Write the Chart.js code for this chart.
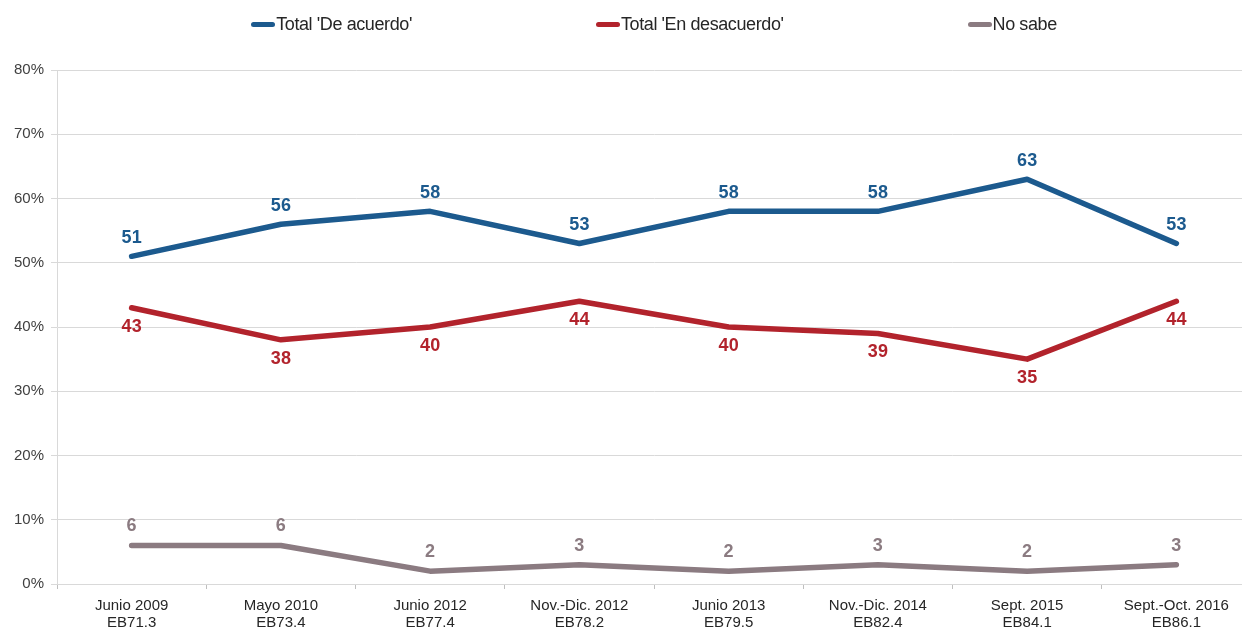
<!DOCTYPE html>
<html>
<head>
<meta charset="utf-8">
<script src="https://cdn.jsdelivr.net/npm/chart.js@4.4.1/dist/chart.umd.min.js"></script>
<style>
  html, body { margin:0; padding:0; background:#fff; overflow:hidden; width:1242px; height:631px; }
  #wrap { position:relative; width:1252px; height:631px; }
  #legend { position:absolute; left:57px; width:1194px; top:13px; display:flex; justify-content:center; gap:184px;
            font-family:"Liberation Sans", Arial, sans-serif; font-size:18px; color:#262626; letter-spacing:-0.4px; line-height:22px; }
  .item { display:flex; align-items:center; white-space:nowrap; }
  .sw { width:24px; height:5px; border-radius:3px; margin-right:1px; }
</style>
</head>
<body>
<div id="wrap">
  <canvas id="c" width="1252" height="631"></canvas>
  <div id="legend"></div>
</div>
<script>
const categories = [
  ["Junio 2009", "EB71.3"],
  ["Mayo 2010", "EB73.4"],
  ["Junio 2012", "EB77.4"],
  ["Nov.-Dic. 2012", "EB78.2"],
  ["Junio 2013", "EB79.5"],
  ["Nov.-Dic. 2014", "EB82.4"],
  ["Sept. 2015", "EB84.1"],
  ["Sept.-Oct. 2016", "EB86.1"]
];
const seriesNames = ["Total 'De acuerdo'", "Total 'En desacuerdo'", "No sabe"];
const deAcuerdo = [51, 56, 58, 53, 58, 58, 63, 53];
const enDesacuerdo = [43, 38, 40, 44, 40, 39, 35, 44];
const noSabe = [6, 6, 2, 3, 2, 3, 2, 3];
const yTicks = [0, 10, 20, 30, 40, 50, 60, 70, 80];

const colors = ["#1c5a8e", "#b2232c", "#8b7b81"];
const labelShift = [-18, 19, -19];

const legendEl = document.getElementById('legend');
seriesNames.forEach((n, i) => {
  const it = document.createElement('div'); it.className = 'item';
  const sw = document.createElement('span'); sw.className = 'sw'; sw.style.background = colors[i];
  const tx = document.createElement('span'); tx.textContent = n;
  it.appendChild(sw); it.appendChild(tx); legendEl.appendChild(it);
});

const valueLabels = {
  id: 'valueLabels',
  afterDatasetsDraw(chart) {
    const ctx = chart.ctx;
    ctx.save();
    ctx.font = 'bold 18px "Liberation Sans", Arial, sans-serif';
    ctx.textAlign = 'center';
    ctx.textBaseline = 'middle';
    chart.data.datasets.forEach((ds, di) => {
      const meta = chart.getDatasetMeta(di);
      ctx.fillStyle = colors[di];
      meta.data.forEach((pt, i) => {
        ctx.fillText(String(ds.data[i]), pt.x, pt.y + labelShift[di]);
      });
    });
    ctx.restore();
  }
};

const mk = (name, data, i) => ({
  label: name, data, borderColor: colors[i], backgroundColor: colors[i],
  borderWidth: 5.5, pointRadius: 0, pointHoverRadius: 0, tension: 0,
  borderCapStyle: 'round', borderJoinStyle: 'round', fill: false
});

new Chart(document.getElementById('c'), {
  type: 'line',
  data: {
    labels: categories,
    datasets: [mk(seriesNames[0], deAcuerdo, 0), mk(seriesNames[1], enDesacuerdo, 1), mk(seriesNames[2], noSabe, 2)]
  },
  options: {
    responsive: false,
    animation: false,
    devicePixelRatio: 1,
    layout: { padding: { top: 70, right: 1, left: 0, bottom: 0 } },
    plugins: { legend: { display: false }, tooltip: { enabled: false } },
    scales: {
      x: {
        type: 'category',
        offset: true,
        grid: { offset: true, drawOnChartArea: false, drawTicks: true, tickLength: 5, color: '#bfbfbf' },
        border: { color: '#d9d9d9', width: 1 },
        ticks: { color: '#262626', font: { family: '"Liberation Sans", Arial, sans-serif', size: 15, lineHeight: 1.1 },
                 padding: 9, maxRotation: 0, autoSkip: false },
        afterFit(s) { s.height = 47; }
      },
      y: {
        min: 0, max: 80,
        afterBuildTicks(s) { s.ticks = yTicks.map(v => ({ value: v })); },
        grid: { color: '#d9d9d9', lineWidth: 1, tickLength: 6 },
        border: { color: '#d9d9d9', width: 1 },
        ticks: { color: '#404040', font: { family: '"Liberation Sans", Arial, sans-serif', size: 15 },
                 padding: 7, callback: v => v + '%' },
        afterFit(s) { s.width = 57; }
      }
    }
  },
  plugins: [valueLabels]
});
</script>
</body>
</html>
